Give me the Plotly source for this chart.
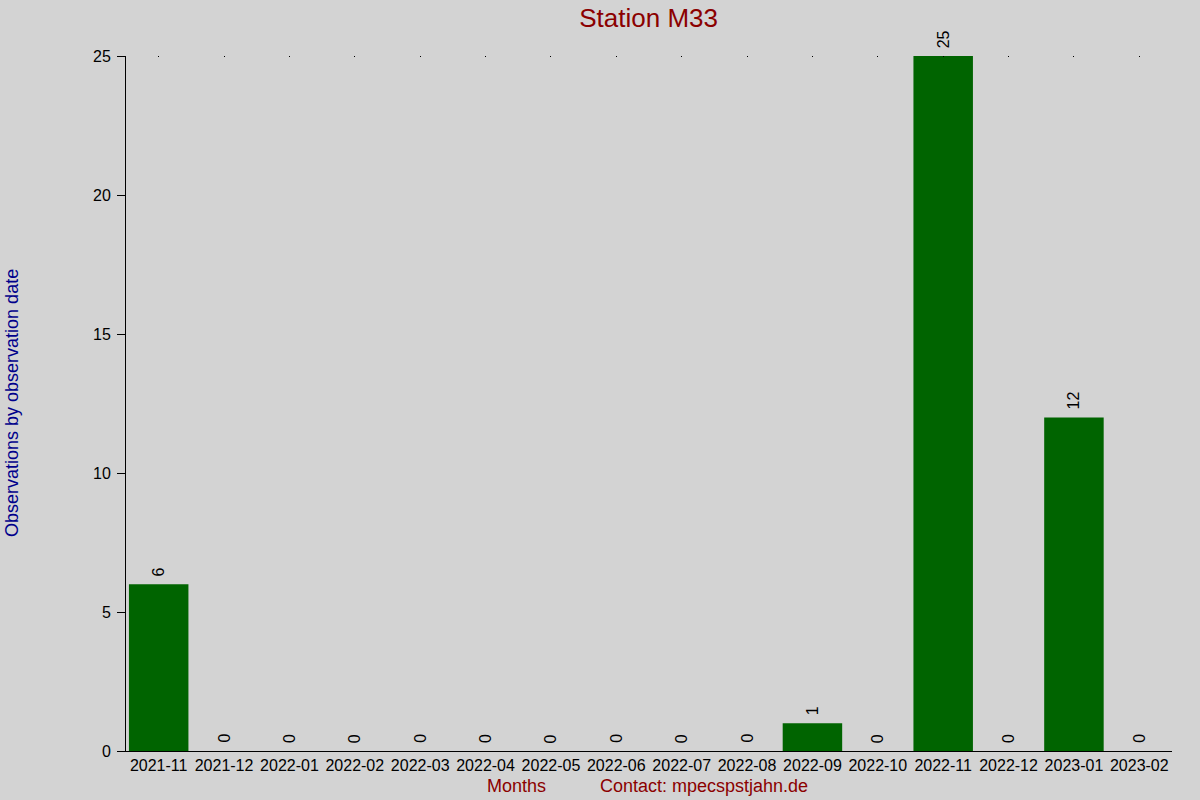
import plotly.graph_objects as go

# monthly observation counts for the station
months = ["2021-11", "2021-12", "2022-01", "2022-02", "2022-03", "2022-04",
          "2022-05", "2022-06", "2022-07", "2022-08", "2022-09", "2022-10",
          "2022-11", "2022-12", "2023-01", "2023-02"]
counts = [6, 0, 0, 0, 0, 0, 0, 0, 0, 0, 1, 0, 25, 0, 12, 0]
y_ticks = [0, 5, 10, 15, 20, 25]

station = "Station M33"
x_label = "Months"
contact = "Contact: mpecspstjahn.de"
y_label = "Observations by observation date"

FONT = "Liberation Sans, Arial, sans-serif"
BG = "#d3d3d3"
DARKRED = "#8b0000"
LABEL_PX = 16

fig = go.Figure()
fig.add_trace(go.Bar(x=months, y=counts, marker=dict(color="#006400", line=dict(width=0)),
                     hoverinfo="x+y", name=""))
# invisible twin trace so the top (mirror) axis with its dot ticks gets drawn
fig.add_trace(go.Bar(x=months, y=counts, xaxis="x2", opacity=0, hoverinfo="skip",
                     showlegend=False, marker=dict(line=dict(width=0))))

# rotated value labels above each bar
for m, c in zip(months, counts):
    half = len(str(c)) * 0.556 * LABEL_PX / 2
    fig.add_annotation(x=m, y=c, text=str(c), textangle=-90, showarrow=False,
                       xanchor="center", yanchor="middle", yshift=8 + half,
                       font=dict(family=FONT, size=LABEL_PX, color="black"))

fig.add_annotation(xref="paper", yref="paper", x=0.3738, y=-0.0504, text=x_label,
                   showarrow=False, xanchor="center", yanchor="middle",
                   font=dict(family=FONT, size=18, color=DARKRED))
fig.add_annotation(xref="paper", yref="paper", x=0.5526, y=-0.0504, text=contact,
                   showarrow=False, xanchor="center", yanchor="middle",
                   font=dict(family=FONT, size=18, color=DARKRED))
fig.add_annotation(xref="paper", yref="paper", x=-0.109, y=0.5007, text=y_label,
                   textangle=-90, showarrow=False, xanchor="center", yanchor="middle",
                   font=dict(family=FONT, size=18, color="#00008b"))

fig.update_layout(
    width=1200, height=800,
    paper_bgcolor=BG, plot_bgcolor=BG,
    margin=dict(l=126, r=28, t=56, b=49),
    bargap=0.09, barmode="overlay",
    showlegend=False,
    font=dict(family=FONT, size=16, color="black"),
    title=dict(text=station, x=0.5405, xanchor="center", y=0.9775, yanchor="middle",
               font=dict(family=FONT, size=26, color=DARKRED)),
    xaxis=dict(type="category", range=[-0.5, len(months) - 0.5], showgrid=False,
               showline=True, linecolor="black", linewidth=1, ticks="",
               tickfont=dict(family=FONT, size=16, color="black"), zeroline=False),
    xaxis2=dict(type="category", matches="x", overlaying="x", side="top", anchor="y",
                showgrid=False, showline=False, showticklabels=False,
                ticks="inside", ticklen=1, tickwidth=1, tickcolor="black"),
    yaxis=dict(range=[0, 25], tickvals=y_ticks, showgrid=False, zeroline=False,
               showline=True, linecolor="black", linewidth=1,
               ticks="outside", ticklen=8, tickcolor="black", ticklabelstandoff=3,
               tickfont=dict(family=FONT, size=16, color="black")),
)

# drop the default page margin so the 1200x800 figure fills the window
fig.write_html("out.html", config={"displayModeBar": False},
               post_script="document.body.style.margin='0';")
